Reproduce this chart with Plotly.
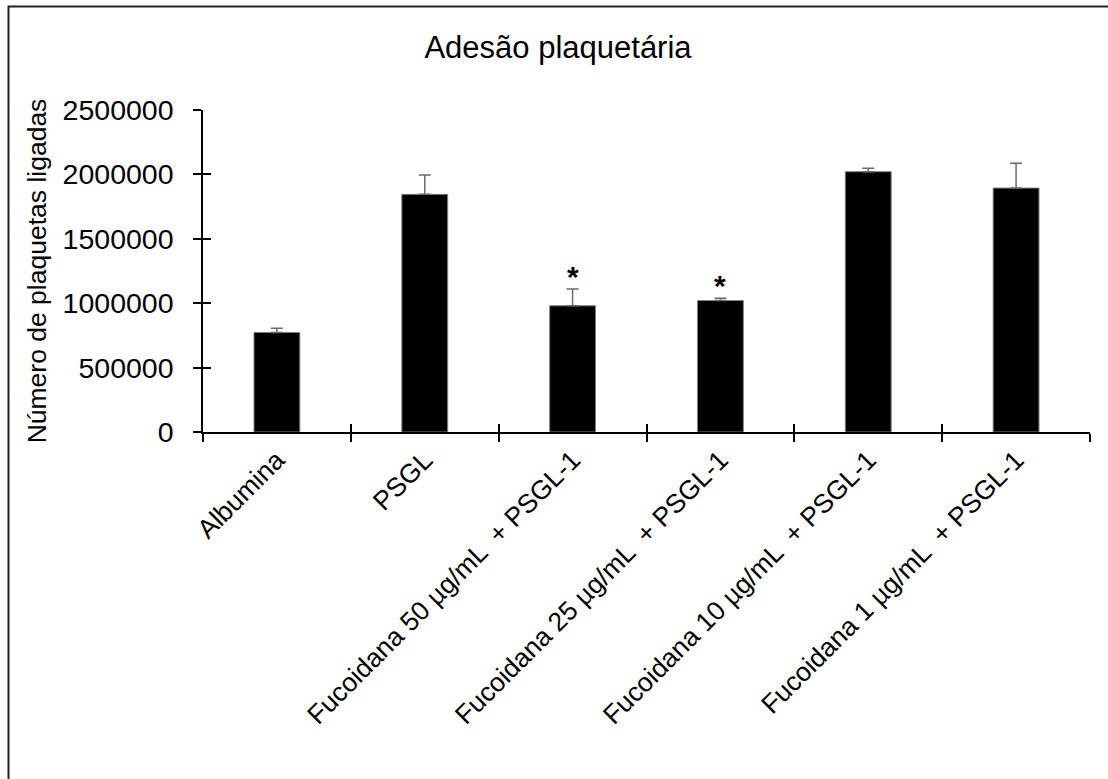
import plotly.graph_objects as go

categories = ["Albumina", "PSGL", "Fucoidana 50 µg/mL  + PSGL-1", "Fucoidana 25 µg/mL  + PSGL-1",
              "Fucoidana 10 µg/mL  + PSGL-1", "Fucoidana 1 µg/mL  + PSGL-1"]
values = [773000, 1845000, 980000, 1021000, 2021000, 1894000]
errors = [33000, 150000, 130000, 18000, 26000, 192000]
significant = [False, False, True, True, False, False]
y_ticks = [0, 500000, 1000000, 1500000, 2000000, 2500000]

FONT = "Arial, Liberation Sans, sans-serif"
W, H = 1108, 779
ML, MR, MT, MB = 203, 18, 110, 347
PW, PH = W - ML - MR, H - MT - MB

fig = go.Figure()
fig.add_trace(go.Bar(
    x=categories, y=values,
    marker=dict(color="black", line=dict(color="#7f7f7f", width=1)),
    error_y=dict(type="data", array=errors, arrayminus=[0] * len(errors), symmetric=False,
                 visible=True, color="#6b6b6b", thickness=1.5, width=6),
    showlegend=False,
))
# invisible trace for the overlay axis (inside ticks to make crossing ticks)
fig.add_trace(go.Scatter(x=categories, y=values, xaxis="x2", yaxis="y2", mode="markers",
                         marker=dict(opacity=0), hoverinfo="skip", showlegend=False))

for c, v, e, s in zip(categories, values, errors, significant):
    if s:
        fig.add_annotation(x=c, y=v + e, text="<b>*</b>", showarrow=False, yanchor="middle",
                           yshift=13, font=dict(family=FONT, size=30, color="black"))

axis_common = dict(showgrid=False, zeroline=False)
fig.update_layout(
    width=W, height=H,
    margin=dict(l=ML, r=MR, t=MT, b=MB, pad=0),
    paper_bgcolor="white", plot_bgcolor="white",
    bargap=0.69,
    font=dict(family=FONT, color="black"),
    title=dict(text="Adesão plaquetária", x=558 / W, xref="container", xanchor="center",
               y=1 - 47 / H, yref="container", yanchor="middle",
               font=dict(family=FONT, size=31, color="black")),
    xaxis=dict(type="category", tickson="boundaries", ticks="outside", ticklen=8, tickwidth=1.5,
               tickcolor="black", showline=True, linecolor="black", linewidth=2,
               tickangle=-45, tickfont=dict(family=FONT, size=26.5, color="black"), **axis_common),
    yaxis=dict(range=[0, 2500000], tickvals=y_ticks, ticktext=[str(t) for t in y_ticks],
               ticks="outside", ticklen=8, tickwidth=1.5, tickcolor="black",
               showline=True, linecolor="black", linewidth=1.5,
               tickfont=dict(family=FONT, size=28.5, color="black"), ticklabelstandoff=14,
               title=dict(text="Número de plaquetas ligadas", standoff=8,
                          font=dict(family=FONT, size=26.5, color="black")),
               **axis_common),
    xaxis2=dict(type="category", overlaying="x", matches="x", tickson="boundaries", ticks="inside",
                ticklen=8, tickwidth=1.5, tickcolor="black", showticklabels=False,
                showline=False, side="bottom", **axis_common),
    yaxis2=dict(overlaying="y", matches="y", tickvals=y_ticks, ticks="inside", ticklen=8,
                tickwidth=1.5, tickcolor="black", showticklabels=False, showline=False,
                side="left", **axis_common),
)

# outer chart border (top and left visible, runs off the canvas at right/bottom)
fig.add_shape(type="rect", xref="paper", yref="paper",
              x0=(8.5 - ML) / PW, x1=(W + 20 - ML) / PW,
              y0=-(MB + 20) / PH, y1=(H - MB - 6.5) / PH,
              line=dict(color="#222222", width=2), fillcolor="rgba(0,0,0,0)", layer="below")

fig.write_html("out.html", config={"displayModeBar": False},
               post_script="document.body.style.margin='0';")
